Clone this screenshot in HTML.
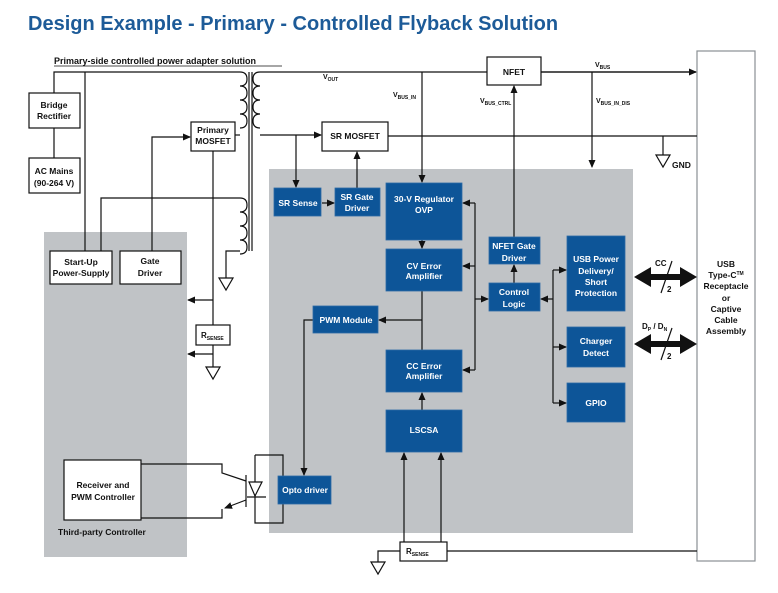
<!DOCTYPE html>
<html><head><meta charset="utf-8"><style>
html,body{margin:0;padding:0;background:#fff}
svg{display:block}
text{font-family:"Liberation Sans",Arial,sans-serif;font-weight:bold}
.w{fill:#fff;font-size:8.5px}
.k{fill:#111;font-size:8.5px}
.s{font-size:5px}
</style></head><body>
<svg width="778" height="593" viewBox="0 0 778 593" xmlns="http://www.w3.org/2000/svg">
<defs>
<marker id="a" markerWidth="8" markerHeight="8" refX="7" refY="4" orient="auto" markerUnits="userSpaceOnUse"><path d="M0,0.5 L8,4 L0,7.5z" fill="#111"/></marker>
</defs>
<text x="28" y="30" style="font-size:20px;fill:#1d5b98">Design Example - Primary - Controlled Flyback Solution</text>
<text x="54" y="64" class="k" style="font-size:9px">Primary-side controlled power adapter solution</text>
<line x1="54" y1="66" x2="282" y2="66" stroke="#111" stroke-width="0.8"/>
<!-- gray panels -->
<rect x="44" y="232" width="143" height="325" fill="#c0c3c6"/>
<rect x="269" y="169" width="364" height="364" fill="#c0c3c6"/>
<!-- connector -->
<rect x="697" y="51" width="58" height="510" fill="#fff" stroke="#8a8f94" stroke-width="1.2"/>
<g fill="none" stroke="#111" stroke-width="1.2">
<!-- primary wiring -->
<path d="M54,93 V72 H240"/><path d="M54,128 V158"/>
<path d="M85,72 V251"/>
<path d="M101,251 V198 H240"/>
<path d="M152,251 V137 H190" marker-end="url(#a)"/>
<path d="M235,135 H240"/>
<!-- coils -->
<path d="M240,72 q7,0 7,7 q0,7 -7,7 q7,0 7,7 q0,7 -7,7 q7,0 7,7 q0,7 -7,7 q7,0 7,7 q0,7 -7,7"/>
<path d="M260,72 q-7,0 -7,7 q0,7 7,7 q-7,0 -7,7 q0,7 7,7 q-7,0 -7,7 q0,7 7,7 q-7,0 -7,7 q0,7 7,7"/>
<path d="M240,198 q7,0 7,7 q0,7 -7,7 q7,0 7,7 q0,7 -7,7 q7,0 7,7 q0,7 -7,7 q7,0 7,7 q0,7 -7,7"/>
<path d="M249,72 V251 M252,72 V251"/>
<path d="M240,251 H226 V278"/>
<path d="M213,151 V325 M213,345 V367"/>
<path d="M213,300 H188" marker-end="url(#a)"/>
<path d="M213,354 H188" marker-end="url(#a)"/>
<!-- secondary -->
<path d="M260,72 H487 M541,72 H696" /><path d="M541,72 H696" marker-end="url(#a)"/>
<path d="M260,135 H321" marker-end="url(#a)"/>
<path d="M296,135 V187" marker-end="url(#a)"/>
<path d="M322,203 H334" marker-end="url(#a)"/>
<path d="M357,188 V152" marker-end="url(#a)"/>
<path d="M388,136 H697"/>
<path d="M663,136 V155"/>
<path d="M422,72 V182" marker-end="url(#a)"/>
<path d="M592,72 V167" marker-end="url(#a)"/>
<path d="M514,237 V86" marker-end="url(#a)"/>
<path d="M422,240 V248" marker-end="url(#a)"/>
<path d="M422,291 V350"/>
<path d="M422,320 H379" marker-end="url(#a)"/>
<path d="M313,320 H304 V475" marker-end="url(#a)"/>
<path d="M422,410 V393" marker-end="url(#a)"/>
<path d="M475,203 V370"/>
<path d="M475,203 H463" marker-end="url(#a)"/>
<path d="M475,266 H463" marker-end="url(#a)"/>
<path d="M475,370 H463" marker-end="url(#a)"/>
<path d="M475,299 H488" marker-end="url(#a)"/>
<path d="M514,283 V265" marker-end="url(#a)"/>
<path d="M553,270 V403"/>
<path d="M553,299 H541" marker-end="url(#a)"/>
<path d="M553,270 H566" marker-end="url(#a)"/>
<path d="M553,347 H566" marker-end="url(#a)"/>
<path d="M553,403 H566" marker-end="url(#a)"/>
<path d="M404,542 V453" marker-end="url(#a)"/>
<path d="M441,542 V453" marker-end="url(#a)"/>
<path d="M447,551 H697"/>
<path d="M400,551 H378 V562"/>
<!-- opto -->
<path d="M141,464 H222 V473 L246,481"/>
<path d="M141,518 H222 V509"/>
<path d="M246,500 L225,508" marker-end="url(#a)"/>
<path d="M246,475 V507"/>
<path d="M255,455 H283 V476 M283,504 V523 H255 V455"/>
<path d="M247,497 H266"/>
</g>
<path d="M249,482 H262 L255,496z" fill="#fff" stroke="#111" stroke-width="1.2"/>
<!-- grounds -->
<g fill="#fff" stroke="#111" stroke-width="1.2">
<path d="M219,278 H233 L226,290z"/>
<path d="M206,367 H220 L213,379z"/>
<path d="M656,155 H670 L663,167z"/>
<path d="M371,562 H385 L378,574z"/>
</g>
<!-- thick bidirectional arrows -->
<g fill="#111">
<path d="M634,277 L651,267 V274 H680 V267 L697,277 L680,287 V280 H651 V287z"/>
<path d="M634,344 L651,334 V341 H680 V334 L697,344 L680,354 V347 H651 V354z"/>
</g>
<g stroke="#111" stroke-width="1.2"><line x1="672" y1="261" x2="661" y2="293"/><line x1="672" y1="328" x2="661" y2="360"/></g>
<text x="655" y="266" class="k" style="font-size:8px">CC</text>
<text x="667" y="292" class="k" style="font-size:8px">2</text>
<text x="642" y="329" class="k" style="font-size:8px">D<tspan class="s" dy="2">P</tspan><tspan dy="-2"> / D</tspan><tspan class="s" dy="2">N</tspan></text>
<text x="667" y="359" class="k" style="font-size:8px">2</text>
<!-- white boxes -->
<g fill="#fff" stroke="#111" stroke-width="1.2">
<rect x="29" y="93" width="51" height="35"/>
<rect x="29" y="158" width="51" height="35"/>
<rect x="191" y="122" width="44" height="29"/>
<rect x="50" y="251" width="62" height="33"/>
<rect x="120" y="251" width="61" height="33"/>
<rect x="196" y="325" width="34" height="20"/>
<rect x="487" y="57" width="54" height="28"/>
<rect x="322" y="122" width="66" height="29"/>
<rect x="64" y="460" width="77" height="60"/>
<rect x="400" y="542" width="47" height="19"/>
</g>
<!-- blue boxes -->
<g fill="#0d5598" stroke="#2c6aa6" stroke-width="0.8">
<rect x="274" y="188" width="47" height="28"/>
<rect x="335" y="188" width="45" height="28"/>
<rect x="386" y="183" width="76" height="57"/>
<rect x="386" y="249" width="76" height="42"/>
<rect x="386" y="350" width="76" height="42"/>
<rect x="386" y="410" width="76" height="42"/>
<rect x="313" y="306" width="65" height="27"/>
<rect x="278" y="476" width="53" height="28"/>
<rect x="489" y="237" width="51" height="27"/>
<rect x="489" y="283" width="51" height="28"/>
<rect x="567" y="236" width="58" height="75"/>
<rect x="567" y="327" width="58" height="40"/>
<rect x="567" y="383" width="58" height="39"/>
</g>
<g text-anchor="middle">
<text x="54" y="108" class="k">Bridge</text><text x="54" y="119" class="k">Rectifier</text>
<text x="54" y="174" class="k">AC Mains</text><text x="54" y="186" class="k">(90-264 V)</text>
<text x="213" y="133" class="k">Primary</text><text x="213" y="144" class="k">MOSFET</text>
<text x="81" y="265" class="k">Start-Up</text><text x="81" y="276" class="k">Power-Supply</text>
<text x="150" y="264" class="k">Gate</text><text x="150" y="276" class="k">Driver</text>
<text x="514" y="75" class="k">NFET</text>
<text x="355" y="139" class="k">SR MOSFET</text>
<text x="103" y="488" class="k">Receiver and</text><text x="103" y="500" class="k">PWM Controller</text>
<text x="298" y="206" class="w">SR Sense</text>
<text x="357" y="200" class="w">SR Gate</text><text x="357" y="211" class="w">Driver</text>
<text x="424" y="202" class="w">30-V Regulator</text><text x="424" y="213" class="w">OVP</text>
<text x="424" y="269" class="w">CV Error</text><text x="424" y="279" class="w">Amplifier</text>
<text x="424" y="369" class="w">CC Error</text><text x="424" y="379" class="w">Amplifier</text>
<text x="424" y="433" class="w">LSCSA</text>
<text x="346" y="323" class="w">PWM Module</text>
<text x="305" y="493" class="w">Opto driver</text>
<text x="514" y="249" class="w">NFET Gate</text><text x="514" y="261" class="w">Driver</text>
<text x="514" y="295" class="w">Control</text><text x="514" y="307" class="w">Logic</text>
<text x="596" y="262" class="w">USB Power</text><text x="596" y="274" class="w">Delivery/</text><text x="596" y="285" class="w">Short</text><text x="596" y="296" class="w">Protection</text>
<text x="596" y="344" class="w">Charger</text><text x="596" y="356" class="w">Detect</text>
<text x="596" y="406" class="w">GPIO</text>
<text x="726" y="267" class="k">USB</text>
<text x="726" y="278" class="k">Type-C<tspan style="font-size:5px" dy="-3">TM</tspan></text>
<text x="726" y="289" class="k">Receptacle</text>
<text x="726" y="301" class="k">or</text>
<text x="726" y="312" class="k">Captive</text>
<text x="726" y="323" class="k">Cable</text>
<text x="726" y="334" class="k">Assembly</text>
</g>
<text x="58" y="535" class="k">Third-party Controller</text>
<text x="201" y="338" class="k" style="font-size:8px">R<tspan class="s" dy="2">SENSE</tspan></text>
<text x="406" y="554" class="k" style="font-size:8px">R<tspan class="s" dy="2">SENSE</tspan></text>
<text x="323" y="79" class="k" style="font-size:7px">V<tspan class="s" dy="2">OUT</tspan></text>
<text x="393" y="97" class="k" style="font-size:7px">V<tspan class="s" dy="2">BUS_IN</tspan></text>
<text x="480" y="103" class="k" style="font-size:7px">V<tspan class="s" dy="2">BUS_CTRL</tspan></text>
<text x="595" y="67" class="k" style="font-size:7px">V<tspan class="s" dy="2">BUS</tspan></text>
<text x="596" y="103" class="k" style="font-size:7px">V<tspan class="s" dy="2">BUS_IN_DIS</tspan></text>
<text x="672" y="168" class="k">GND</text>
</svg>
</body></html>
